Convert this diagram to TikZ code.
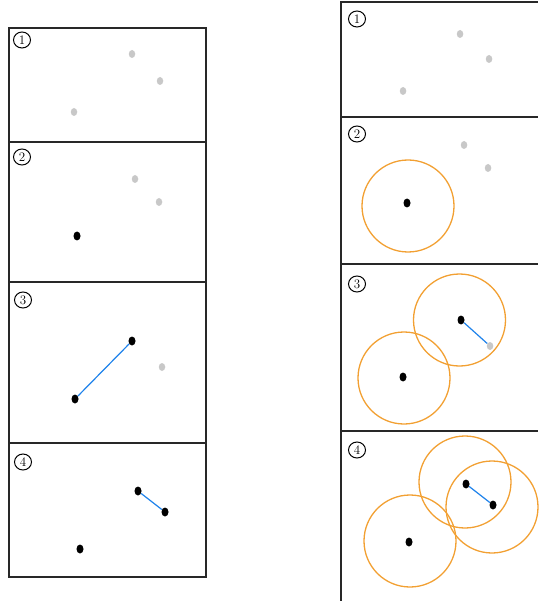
\documentclass[tikz,border=0pt]{standalone}
\usetikzlibrary{shapes.geometric}
\definecolor{dotgray}{RGB}{200,200,200}
\definecolor{ring}{RGB}{242,160,50}
\definecolor{link}{RGB}{30,130,235}
\definecolor{frame}{RGB}{40,40,40}
\tikzset{
  bdot/.style={ellipse,fill=black,inner sep=0pt,minimum width=7pt,minimum height=9pt},
  gdot/.style={ellipse,fill=dotgray,inner sep=0pt,minimum width=6.5pt,minimum height=8pt},
  ring/.style={draw=ring,line width=1.3pt},
  linkline/.style={draw=link,line width=1.2pt},
  framel/.style={draw=frame,line width=1.4pt},
  num/.style={ellipse,draw=black,line width=1pt,inner sep=0pt,minimum width=17pt,minimum height=16pt,font=\fontsize{13}{13}\selectfont}
}
\begin{document}
\begin{tikzpicture}[x=1pt,y=-1pt]
\useasboundingbox (0,0) rectangle (538,601);
% left frames
\draw[framel] (9,28) rectangle (206,577);
\draw[framel] (9,142) -- (206,142);
\draw[framel] (9,282) -- (206,282);
\draw[framel] (9,443) -- (206,443);
% right frames
\draw[framel] (341,601) -- (341,2) -- (538,2);
\draw[framel] (341,117) -- (538,117);
\draw[framel] (341,264) -- (538,264);
\draw[framel] (341,431) -- (538,431);
% left panel 1
\node[num] (l1) at (22,40) {1};
\node[gdot] (l1a) at (132,54) {};
\node[gdot] (l1b) at (160,81) {};
\node[gdot] (l1c) at (74,112) {};
% left panel 2
\node[num] (l2) at (22,157) {2};
\node[gdot] (l2a) at (135,179) {};
\node[gdot] (l2b) at (159,202) {};
\node[bdot] (l2c) at (77,236) {};
% left panel 3
\node[num] (l3) at (23,300) {3};
\node[bdot] (l3a) at (132,341) {};
\node[gdot] (l3b) at (162,367) {};
\node[bdot] (l3c) at (75,399) {};
\draw[linkline] (l3c) -- (l3a);
% left panel 4
\node[num] (l4) at (23,462) {4};
\node[bdot] (l4a) at (138,491) {};
\node[bdot] (l4b) at (165,512) {};
\node[bdot] (l4c) at (80,549) {};
\draw[linkline] (l4a) -- (l4b);
% right panel 1
\node[num] (r1) at (357,19) {1};
\node[gdot] (r1a) at (460,34) {};
\node[gdot] (r1b) at (489,59) {};
\node[gdot] (r1c) at (403,91) {};
% right panel 2
\node[num] (r2) at (357,134) {2};
\node[gdot] (r2a) at (464,145) {};
\node[gdot] (r2b) at (488,168) {};
\node[bdot] (r2c) at (407,203) {};
\draw[ring] (408,206) circle (46);
% right panel 3
\node[num] (r3) at (357,284) {3};
\node[bdot] (r3a) at (461,320) {};
\node[gdot] (r3b) at (490,346) {};
\node[bdot] (r3c) at (403,377) {};
\draw[ring] (459.5,320) circle (46);
\draw[ring] (404,378) circle (46);
\draw[linkline] (r3a) -- (r3b);
% right panel 4
\node[num] (r4) at (357,450) {4};
\node[bdot] (r4a) at (466,484) {};
\node[bdot] (r4b) at (493,505) {};
\node[bdot] (r4c) at (409,542) {};
\draw[ring] (465,482) circle (46);
\draw[ring] (492,507) circle (46);
\draw[ring] (410,541) circle (46);
\draw[linkline] (r4a) -- (r4b);
\end{tikzpicture}
\end{document}
